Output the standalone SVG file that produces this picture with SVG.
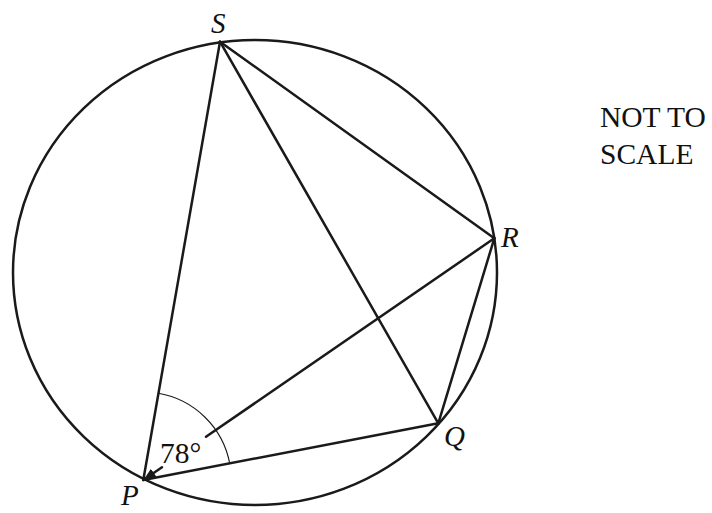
<svg xmlns="http://www.w3.org/2000/svg" width="712" height="513" viewBox="0 0 712 513">
<style>
.ln{stroke:#1a1a1a;stroke-width:2.5;fill:none;stroke-linecap:round}
.thin{stroke:#1a1a1a;stroke-width:1.1;fill:none}
.lbl{font-family:"Liberation Serif","Times New Roman",serif;font-style:italic;font-size:29px;fill:#111}
.txt{font-family:"Liberation Serif","Times New Roman",serif;font-size:29.5px;fill:#111}
</style>
<defs>
<marker id="ah" viewBox="0 0 10 10" refX="9" refY="5" markerWidth="5" markerHeight="5" orient="auto" markerUnits="strokeWidth">
<path d="M0,1 L10,5 L0,9 z" fill="#1a1a1a"/>
</marker>
</defs>
<rect width="712" height="513" fill="#fff"/>
<g id="circle"><ellipse class="ln" cx="255" cy="272.5" rx="242" ry="232.5"/></g>
<g id="connectors">
<line class="ln" x1="220" y1="41.7" x2="143.3" y2="480"/>
<line class="ln" x1="220" y1="41.7" x2="438.3" y2="423.3"/>
<line class="ln" x1="220" y1="41.7" x2="494.3" y2="238.3"/>
<line class="ln" x1="494.3" y1="238.3" x2="438.3" y2="423.3"/>
<line class="ln" x1="143.3" y1="480" x2="438.3" y2="423.3"/>
<line class="ln" x1="494.3" y1="238.3" x2="206" y2="436.8"/>
<line class="ln" x1="162" y1="467.2" x2="144.5" y2="479.2" marker-end="url(#ah)"/>
<path class="thin" d="M158.5,393.3 A88,88 0 0 1 229.7,463.4"/>
</g>
<g id="S"><text class="lbl" x="211" y="33">S</text></g>
<g id="R"><text class="lbl" x="501" y="247">R</text></g>
<g id="Q"><text class="lbl" x="444" y="446">Q</text></g>
<g id="P"><text class="lbl" x="121" y="505">P</text></g>
<g id="angle"><text class="txt" x="160" y="463">78°</text></g>
<g id="note">
<text class="txt" x="600" y="127">NOT TO</text>
<text class="txt" x="600" y="164">SCALE</text>
</g>
</svg>
